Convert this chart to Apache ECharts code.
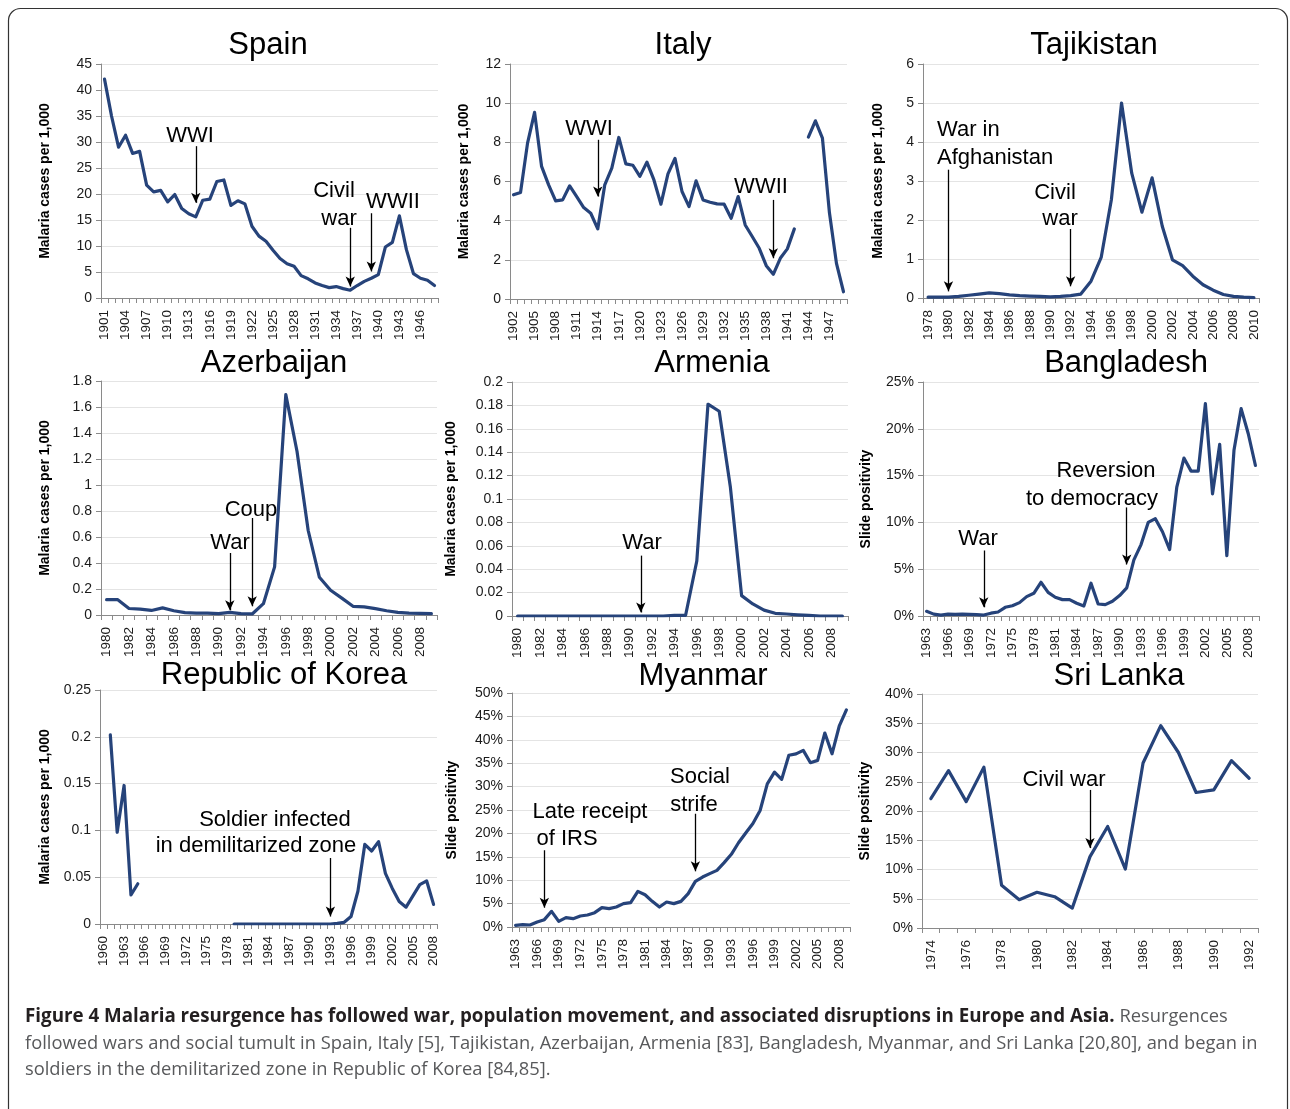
<!DOCTYPE html>
<html><head><meta charset="utf-8">
<script src="https://cdn.jsdelivr.net/npm/echarts@6/dist/echarts.min.js"></script>
<style>html,body{margin:0;padding:0;background:#fff}#c{width:1290px;height:1109px}</style>
</head><body><div id="c"></div>
<script>
function yearRange(a, b) { const r = []; for (let y = a; y <= b; y++) r.push(String(y)); return r; }

// ---- categories ----
const spainYears = yearRange(1901, 1948);
const italyYears = yearRange(1902, 1949);
const tajikYears = yearRange(1978, 2010);
const azerYears = yearRange(1980, 2009);
const armeniaYears = yearRange(1980, 2009);
const bangladeshYears = yearRange(1963, 2009);
const koreaYears = yearRange(1960, 2008);
const myanmarYears = yearRange(1963, 2009);
const sriLankaYears = yearRange(1974, 1992);

// ---- series values ----
const spainCases = [42.1,35,29,31.3,27.8,28.2,21.7,20.4,20.7,18.5,19.9,17.2,16.2,15.6,18.8,19.0,22.4,22.7,17.8,18.7,18.1,13.8,11.9,10.9,9.2,7.6,6.6,6.1,4.3,3.7,2.9,2.4,2.0,2.2,1.8,1.5,2.4,3.2,3.8,4.5,9.8,10.7,15.8,9.3,4.7,3.8,3.4,2.4];
const italyCases = [5.32,5.44,7.96,9.53,6.77,5.83,5.01,5.06,5.78,5.23,4.67,4.38,3.58,5.83,6.68,8.25,6.9,6.83,6.26,6.99,6.08,4.84,6.39,7.18,5.49,4.72,6.03,5.06,4.94,4.86,4.84,4.12,5.23,3.78,3.19,2.59,1.70,1.26,2.08,2.56,3.58,null,8.27,9.1,8.22,4.4,1.82,0.37];
const tajikCases = [0.02,0.02,0.02,0.04,0.07,0.10,0.13,0.11,0.08,0.06,0.05,0.04,0.03,0.04,0.06,0.10,0.43,1.04,2.52,5.0,3.2,2.2,3.08,1.84,0.98,0.83,0.56,0.34,0.2,0.09,0.04,0.02,0.01];
const azerCases = [0.118,0.118,0.05,0.045,0.035,0.055,0.033,0.018,0.015,0.015,0.01,0.02,0.01,0.008,0.087,0.37,1.695,1.26,0.65,0.29,0.19,0.13,0.067,0.062,0.049,0.033,0.02,0.015,0.013,0.01];
const armeniaCases = [0,0,0,0,0,0,0,0,0,0,0,0,0,0,0.0006,0.0006,0.047,0.181,0.175,0.11,0.0174,0.0103,0.005,0.0023,0.0017,0.001,0.0005,0,0,0];
const bangladeshSPR = [0.5,0.2,0.1,0.2,0.18,0.2,0.18,0.15,0.1,0.3,0.43,0.93,1.1,1.43,2.07,2.43,3.6,2.53,2.0,1.75,1.75,1.36,1.07,3.5,1.28,1.21,1.57,2.18,3.0,6.0,7.63,10.0,10.4,9.0,7.1,13.77,16.87,15.48,15.48,22.68,13.05,18.33,6.45,17.7,22.15,19.47,16.08];
const koreaCases = [null,0.202,0.098,0.148,0.031,0.043,null,null,null,null,null,null,null,null,null,null,null,null,null,0,0,0,0,0,0,0,0,0,0,0,0,0,0,0,0.0007,0.0018,0.008,0.035,0.085,0.078,0.088,0.054,0.038,0.024,0.018,0.03,0.042,0.046,0.021];
const myanmarSPR = [0.36,0.5,0.43,1.07,1.57,3.35,1.21,2.0,1.78,2.35,2.56,3.06,4.13,3.92,4.27,4.99,5.2,7.62,6.9,5.48,4.27,5.34,4.99,5.48,7.12,9.76,10.68,11.4,12.1,13.75,15.53,18.0,20.1,22.1,24.9,30.6,33.1,31.55,36.7,37.0,37.75,35.1,35.6,41.45,37.0,42.9,46.4];
const sriLankaSPR = [22.1,26.9,21.6,27.5,7.3,4.84,6.1,5.35,3.41,12.2,17.35,10.07,28.2,34.6,30.0,23.16,23.6,28.6,25.6];

// ---- annotation arrows: [year, from value, to value] ----
const spainArrows = [['1914', 29.2, 18.3], ['1936', 13.5, 2.2], ['1939', 16.3, 5.1]];
const italyArrows = [['1914', 8.13, 5.23], ['1939', 5.06, 2.08]];
const tajikArrows = [['1980', 3.29, 0.17], ['1992', 1.77, 0.3]];
const azerArrows = [['1991', 0.477, 0.036], ['1993', 0.746, 0.067]];
const armeniaArrows = [['1991', 0.0516, 0.003]];
const bangladeshArrows = [['1971', 7.0, 0.93], ['1991', 11.6, 5.5]];
const koreaArrows = [['1993', 0.0705, 0.008]];
const myanmarArrows = [['1967', 16.4, 4.13], ['1988', 24.2, 11.9]];
const sriLankaArrows = [['1983', 23.6, 13.66]];

const FONT = '"Liberation Sans", Arial, Helvetica, sans-serif';
const LINE = '#26437a';
const CASES = 'Malaria cases per 1,000';
const SPR = 'Slide positivity';

const panels = [
  { title: 'Spain', tx: 268, ty: 45, cats: spainYears, vals: spainCases, max: 45, step: 5, name: CASES, gap: 49, li: 2, pct: false, g: [101, 64, 337, 234], arrows: spainArrows },
  { title: 'Italy', tx: 683, ty: 45, cats: italyYears, vals: italyCases, max: 12, step: 2, name: CASES, gap: 39, li: 2, pct: false, g: [510, 64, 337, 235], arrows: italyArrows },
  { title: 'Tajikistan', tx: 1094, ty: 45, cats: tajikYears, vals: tajikCases, max: 6, step: 1, name: CASES, gap: 38, li: 1, pct: false, g: [923, 64, 336, 234], arrows: tajikArrows },
  { title: 'Azerbaijan', tx: 274, ty: 363, cats: azerYears, vals: azerCases, max: 1.8, step: 0.2, name: CASES, gap: 49, li: 1, pct: false, g: [101, 381, 336, 234], arrows: azerArrows },
  { title: 'Armenia', tx: 712, ty: 363, cats: armeniaYears, vals: armeniaCases, max: 0.2, step: 0.02, name: CASES, gap: 54, li: 1, pct: false, g: [512, 382, 336, 234], arrows: armeniaArrows },
  { title: 'Bangladesh', tx: 1126, ty: 363, cats: bangladeshYears, vals: bangladeshSPR, max: 25, step: 5, name: SPR, gap: 50, li: 2, pct: true, g: [923, 382, 336, 234], arrows: bangladeshArrows },
  { title: 'Republic of Korea', tx: 284, ty: 675, cats: koreaYears, vals: koreaCases, max: 0.25, step: 0.05, name: CASES, gap: 48, li: 2, pct: false, g: [100, 690, 337, 234], arrows: koreaArrows },
  { title: 'Myanmar', tx: 703, ty: 676, cats: myanmarYears, vals: myanmarSPR, max: 50, step: 5, name: SPR, gap: 53, li: 2, pct: true, g: [512, 693, 338, 234], arrows: myanmarArrows },
  { title: 'Sri Lanka', tx: 1119, ty: 676, cats: sriLankaYears, vals: sriLankaSPR, max: 40, step: 5, name: SPR, gap: 50, li: 1, pct: true, g: [922, 694, 336, 234], arrows: sriLankaArrows }
];

// annotation texts [text, x, y, align]
const notes = [
  ['WWI', 190, 136, 'center'], ['Civil', 334, 191, 'center'], ['war', 339, 219, 'center'], ['WWII', 393, 202, 'center'],
  ['WWI', 589, 129, 'center'], ['WWII', 761, 187, 'center'],
  ['War in', 937, 130, 'left'], ['Afghanistan', 937, 158, 'left'], ['Civil', 1055, 193, 'center'], ['war', 1060, 219, 'center'],
  ['War', 230, 543, 'center'], ['Coup', 251, 510, 'center'],
  ['War', 642, 543, 'center'],
  ['War', 978, 539, 'center'], ['Reversion', 1106, 471, 'center'], ['to democracy', 1092, 499, 'center'],
  ['Soldier infected', 275, 820, 'center'], ['in demilitarized zone', 256, 846, 'center'],
  ['Late receipt', 590, 812, 'center'], ['of IRS', 567, 839, 'center'], ['Social', 700, 777, 'center'], ['strife', 694, 805, 'center'],
  ['Civil war', 1064, 780, 'center']
];

const capBold = 'Figure 4 Malaria resurgence has followed war, population movement, and associated disruptions in Europe and Asia.';
const capLine1 = ' Resurgences';
const capLine2 = 'followed wars and social tumult in Spain, Italy [5], Tajikistan, Azerbaijan, Armenia [83], Bangladesh, Myanmar, and Sri Lanka [20,80], and began in';
const capLine3 = 'soldiers in the demilitarized zone in Republic of Korea [84,85].';

const mctx = document.createElement('canvas').getContext('2d');
mctx.font = '100px "Open Sans"';
const capSize = 100 * 1233 / mctx.measureText(capLine2).width;
const restW = mctx.measureText(capLine1).width * capSize / 100;
mctx.font = 'bold 100px "Open Sans"';
const capBoldSize = 100 * (1203 - restW) / mctx.measureText(capBold).width;

const option = {
  animation: false,
  backgroundColor: '#fff',
  title: panels.map(p => ({ text: p.title, left: p.tx, top: p.ty, padding: 0, textAlign: 'center', textVerticalAlign: 'middle',
    textStyle: { fontSize: 31, fontWeight: 'normal', color: '#000', fontFamily: FONT } })),
  grid: panels.map(p => ({ left: p.g[0], top: p.g[1], width: p.g[2], height: p.g[3], containLabel: false })),
  xAxis: panels.map((p, i) => ({
    type: 'category', gridIndex: i, data: p.cats, boundaryGap: true,
    axisLine: { lineStyle: { color: '#8a8a8a', width: 1 } },
    axisTick: { show: true, interval: 0, length: 5, lineStyle: { color: '#8a8a8a' } },
    axisLabel: { interval: p.li, rotate: 90, fontSize: 13.5, fontFamily: FONT, color: '#1a1a1a', margin: 12 },
    splitLine: { show: false }
  })),
  yAxis: panels.map((p, i) => ({
    type: 'value', gridIndex: i, min: 0, max: p.max, interval: p.step,
    axisLine: { show: true, lineStyle: { color: '#8a8a8a', width: 1 } },
    axisTick: { show: true, length: 5, lineStyle: { color: '#8a8a8a' } },
    axisLabel: { fontSize: 14, fontFamily: FONT, color: '#1a1a1a', margin: 9, formatter: p.pct ? '{value}%' : undefined },
    splitLine: { show: true, lineStyle: { color: '#e4e4e4', width: 1 } },
    name: p.name, nameLocation: 'middle', nameGap: p.gap,
    nameTextStyle: { fontSize: 14, fontWeight: 'bold', fontFamily: FONT, color: '#000' }
  })),
  series: panels.map((p, i) => ({
    type: 'line', xAxisIndex: i, yAxisIndex: i, data: p.vals, showSymbol: false, symbol: 'none',
    connectNulls: false, silent: true, z: 3,
    lineStyle: { color: LINE, width: 3.2, cap: 'round', join: 'round' },
    markLine: {
      silent: true, symbol: ['none', 'arrow'], symbolSize: [7, 10], animation: false,
      label: { show: false },
      lineStyle: { color: '#000', width: 1.3, type: 'solid' },
      emphasis: { disabled: true },
      data: p.arrows.map(a => [{ coord: [a[0], a[1]] }, { coord: [a[0], a[2]] }])
    }
  })),
  graphic: [
    { type: 'rect', shape: { x: 8.5, y: 8.5, width: 1279, height: 1140, r: 12 }, style: { fill: 'none', stroke: '#333', lineWidth: 1.2 }, z: -10, silent: true }
  ].concat(notes.map(n => ({
    type: 'text', x: n[1], y: n[2], silent: true, z: 100,
    style: { text: n[0], fontSize: 22, fontFamily: FONT, fill: '#000', align: n[3], verticalAlign: 'middle' }
  }))).concat([
    { type: 'text', x: 25, y: 1017, silent: true, z: 100,
      style: { text: '{b|' + capBold + '}{r|' + capLine1 + '}', align: 'left', verticalAlign: 'middle',
        rich: { b: { fontSize: capBoldSize, fontFamily: '"Open Sans"', fontWeight: 'bold', fill: '#231f20' },
                r: { fontSize: capSize, fontFamily: '"Open Sans"', fill: '#58595b' } } } },
    { type: 'text', x: 25, y: 1044, silent: true, z: 100,
      style: { text: capLine2, fontSize: capSize, fontFamily: '"Open Sans"', fill: '#58595b', align: 'left', verticalAlign: 'middle' } },
    { type: 'text', x: 25, y: 1070, silent: true, z: 100,
      style: { text: capLine3, fontSize: capSize, fontFamily: '"Open Sans"', fill: '#58595b', align: 'left', verticalAlign: 'middle' } }
  ])
};

const chart = echarts.init(document.getElementById('c'), null, { renderer: 'canvas' });
chart.setOption(option);
</script>
</body></html>
